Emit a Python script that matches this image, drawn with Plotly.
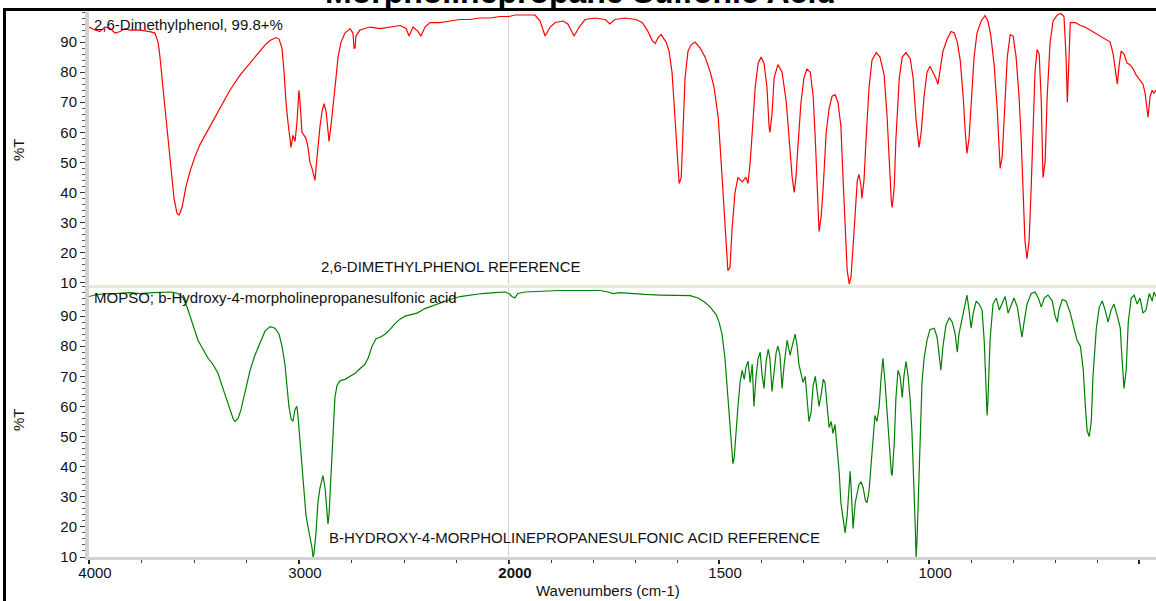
import plotly.graph_objects as go

# ---------------- data ----------------
red_wn = [4000, 3971, 3948, 3924, 3900, 3876, 3852, 3829, 3805, 3757, 3710, 3686, 3671, 3662, 3648,
          3633, 3614, 3595, 3581, 3571, 3557, 3538, 3519, 3495, 3471, 3424, 3376, 3329, 3281, 3233,
          3186, 3162, 3138, 3110, 3095, 3081, 3071, 3062, 3052, 3043, 3038, 3029, 3019, 3010, 3005,
          3000, 2995, 2986, 2976, 2967, 2957, 2948, 2938, 2929, 2924, 2919, 2910, 2900, 2890, 2881,
          2871, 2862, 2857, 2848, 2838, 2824, 2814, 2800, 2781, 2757, 2743, 2738, 2733, 2729, 2710,
          2662, 2614, 2567, 2519, 2490, 2476, 2457, 2433, 2419, 2400, 2376, 2329, 2281, 2233, 2186,
          2138, 2090, 2043, 2000,
          1986, 1962, 1938, 1926, 1914, 1902, 1890, 1871, 1860, 1845, 1833, 1819, 1795, 1771, 1760,
          1748, 1724, 1698, 1683, 1671, 1659, 1652, 1645, 1638, 1631, 1626, 1619, 1612, 1605, 1600,
          1595, 1590, 1586, 1581, 1574, 1567, 1557, 1545, 1533, 1521, 1512, 1502, 1495, 1488, 1483,
          1479, 1474, 1469, 1462, 1455, 1445, 1436, 1431, 1426, 1421, 1414, 1407, 1400, 1393, 1386,
          1381, 1379, 1374, 1369, 1360, 1350, 1340, 1333, 1326, 1321, 1317, 1312, 1305, 1298, 1291,
          1283, 1276, 1271, 1267, 1262, 1257, 1252, 1245, 1238, 1231, 1224, 1217, 1210, 1205, 1200,
          1195, 1190, 1186, 1181, 1176, 1171, 1167, 1162, 1160, 1155, 1150, 1143, 1136, 1126, 1117,
          1107, 1100, 1095, 1090, 1088, 1083, 1079, 1071, 1064, 1055, 1045, 1038, 1031, 1026, 1024,
          1019, 1012, 1005, 998, 991, 984, 979, 974, 967, 957, 948, 940, 933, 926, 919,
          914, 910, 905, 900, 893, 886, 876, 867, 860, 853, 845, 838, 833, 831, 826,
          821, 814, 807, 800, 793, 786, 781, 776, 772, 767, 762, 757, 752, 748, 743,
          738, 733, 729, 724, 719, 712, 705, 695, 686, 679, 674, 671, 669, 664, 652,
          640, 629, 617, 605, 593, 581, 569, 562, 557, 552, 548, 543, 536, 529, 522,
          514, 507, 498, 491, 486, 481, 479, 474, 469, 465, 460]
red_t = [95, 94, 93.5, 95, 94.5, 93, 93.5, 94.5, 94, 94, 93.5, 93, 90, 85, 75,
         65, 50, 38, 33, 32.5, 35, 42, 47, 52, 56, 62, 68, 74, 79, 83,
         87, 89, 90.5, 91.5, 91, 88, 80, 70, 63, 58, 55, 59, 57, 63, 70,
         74, 70, 60, 59, 58, 55, 50, 48, 45, 44, 48, 56, 62, 67, 69.5,
         67, 59, 57, 62, 68, 78, 85, 90, 93, 94.5, 93, 88, 88, 92, 94,
         95, 94.5, 95, 95.5, 94.5, 92, 95, 93.5, 92, 95, 96.5, 96.5, 97, 97.5, 97.5,
         98, 98, 98.5, 98.5,
         99, 99, 99, 97, 92, 95, 96.5, 97, 96, 92, 95, 97.5, 98, 97.5, 96,
         97.5, 98, 97.5, 96.5, 94, 90.5, 89.5, 91.5, 92.5, 91, 90, 87, 80, 65, 55,
         43, 45, 62, 78, 87, 89, 90, 88, 85, 80, 75, 65, 50, 35, 22,
         14, 15, 28, 40, 45, 43.5, 45, 43, 50, 60, 75, 83, 85, 83, 75,
         62, 60, 66, 78, 82.5, 80, 70, 58, 45, 40, 45, 56, 70, 78, 81,
         80, 72, 58, 42, 27, 32, 42, 60, 68, 72, 72.5, 70, 62, 45, 28,
         14, 9.5, 12, 22, 35, 44, 46, 42, 38, 44, 58, 75, 84, 86.5, 85,
         79, 65, 48, 37, 35, 42, 58, 78, 85, 86.5, 84.5, 78, 64, 56, 55,
         60, 72, 80, 82, 80, 78, 76, 80, 87, 91, 93.5, 93, 90, 84, 72,
         60, 53, 58, 70, 85, 93, 97, 98.8, 97, 92, 82, 68, 55, 48, 52,
         68, 85, 92.5, 92, 85, 72, 58, 38, 24, 18, 24, 42, 62, 80, 87.5,
         86, 70, 45, 50, 72, 90, 97, 99, 99.5, 98.5, 85, 70, 80, 96.5, 96.5,
         95.5, 95, 94, 93, 92, 91, 90, 86, 80, 76, 82, 87, 86, 83, 82.5,
         81, 79, 77.5, 76, 73, 68, 65, 72, 74, 73, 74]

green_wn = [4000, 3971, 3924, 3876, 3805, 3757, 3695, 3638, 3605, 3576, 3552, 3533, 3519, 3500, 3481,
            3457, 3433, 3410, 3386, 3367, 3348, 3329, 3314, 3305, 3290, 3276, 3257, 3233, 3210, 3186,
            3162, 3138, 3114, 3095, 3081, 3067, 3057, 3048, 3038, 3029, 3019, 3010, 3005, 2995, 2986,
            2976, 2967, 2957, 2948, 2938, 2933, 2929, 2919, 2910, 2900, 2890, 2886, 2876, 2867, 2862,
            2857, 2848, 2838, 2829, 2819, 2805, 2781, 2757, 2733, 2710, 2686, 2671, 2652, 2633, 2614,
            2590, 2567, 2543, 2519, 2495, 2471, 2438, 2400, 2362, 2329, 2281, 2233, 2186, 2129, 2067,
            2019, 2000,
            1993, 1986, 1979, 1962, 1926, 1879, 1831, 1783, 1764, 1752, 1736, 1712, 1676, 1640, 1605,
            1569, 1550, 1533, 1521, 1507, 1500, 1493, 1486, 1479, 1474, 1469, 1467, 1464, 1460, 1455,
            1450, 1445, 1440, 1436, 1431, 1426, 1421, 1417, 1412, 1407, 1402, 1398, 1393, 1388, 1383,
            1379, 1374, 1369, 1364, 1360, 1355, 1350, 1345, 1338, 1331, 1326, 1319, 1314, 1310, 1305,
            1300, 1295, 1291, 1286, 1281, 1276, 1271, 1267, 1262, 1257, 1252, 1248, 1243, 1238, 1233,
            1229, 1224, 1219, 1214, 1210, 1205, 1200, 1195, 1190, 1188, 1186, 1183, 1181, 1176, 1171,
            1167, 1162, 1157, 1152, 1148, 1143, 1138, 1133, 1129, 1124, 1119, 1114, 1110, 1105, 1100,
            1095, 1090, 1088, 1083, 1079, 1074, 1069, 1064, 1060, 1055, 1050, 1045, 1041, 1036, 1033,
            1031, 1029, 1026, 1021, 1017, 1012, 1005, 998, 988, 981, 976, 972, 967, 960, 952,
            945, 938, 933, 929, 921, 914, 910, 905, 900, 895, 888, 881, 874, 869, 864,
            862, 860, 855, 848, 840, 833, 826, 819, 812, 807, 798, 790, 783, 779, 774,
            767, 757, 748, 740, 733, 726, 717, 707, 700, 695, 691, 683, 674, 664, 655,
            648, 640, 633, 629, 624, 619, 614, 610, 602, 595, 588, 581, 574, 567, 560,
            552, 545, 541, 536, 531, 526, 519, 512, 505, 498, 491, 484, 476, 469, 465, 460]
green_t = [96.5, 97, 97.5, 97.5, 97.8, 97.5, 97.8, 98, 98, 97.5, 96, 93, 90, 86, 82,
           79, 76, 74, 71, 67, 63, 59, 56, 55, 56, 59, 65, 72, 77, 81,
           85, 86.5, 86, 84, 80, 74, 67, 60, 56, 55, 59, 60, 57, 48, 40,
           33, 24, 20, 17, 13, 10, 11, 18, 28, 33, 36, 37, 33, 25, 21,
           24, 38, 54, 63, 67, 68.5, 69, 70, 71, 72.5, 74, 76, 80, 82.5, 83,
           84, 85.5, 87.5, 89, 90, 90.5, 91, 92.5, 93.5, 94.5, 95.5, 96.5, 97, 97.5, 97.8,
           98, 97.5,
           96.5, 96, 97.5, 98, 98.2, 98.5, 98.5, 98.5, 98, 97.5, 97.8, 97.5, 97.2, 97, 97,
           96.8, 96, 94.5, 93, 90.5, 88, 84, 76, 64, 55, 45, 41, 43, 52, 60,
           68, 72, 69, 73, 75, 68, 74, 60, 70, 76, 78, 71, 66, 75, 79,
           76, 65, 72, 78, 80, 77, 66, 74, 82, 77, 80, 84, 80, 74, 71,
           68, 70, 63, 55, 58, 67, 70, 66, 60, 64, 69, 68, 60, 53, 55,
           51, 54, 47, 38, 28, 22, 18, 24, 34, 38.5, 34, 25, 19.5, 28, 32,
           34, 35, 33, 29, 28, 32, 42, 50, 57, 55, 60, 70, 76, 68, 58,
           47, 38, 37, 48, 63, 72, 70, 63, 70, 75, 70, 62, 52, 35, 20,
           10, 15, 28, 52, 68, 76, 82, 85.5, 86, 83, 76, 72, 80, 87, 89.5,
           88, 84, 78, 84, 90, 95, 97, 92, 86, 91, 95, 94, 92, 82, 66,
           57, 62, 82, 94, 96, 92, 94, 96.5, 91, 93, 96, 93, 87, 83, 88,
           94, 97.5, 98, 96, 93, 96, 97, 95, 90, 88, 92, 95.5, 95, 91, 86,
           82, 80, 72, 62, 52, 50, 55, 70, 86, 93, 95, 92, 88, 92, 94,
           90, 86, 76, 66, 72, 88, 96, 97, 94, 96, 91, 92, 97.5, 95, 98, 96.5]

y_ticks = [10, 20, 30, 40, 50, 60, 70, 80, 90]
x_left_ticks = [4000, 3000, 2000]
x_left_labels = ["4000", "3000", "<b>2000</b>"]
x_right_ticks = [1500, 1000, 500]
x_right_labels = ["1500", "1000", ""]

title_text = "Morpholinepropane Sulfonic Acid"
label_top = "2,6-Dimethylphenol, 99.8+%"
ref_top = "2,6-DIMETHYLPHENOL REFERENCE"
label_bot = "MOPSO; b-Hydroxy-4-morpholinepropanesulfonic acid"
ref_bot = "B-HYDROXY-4-MORPHOLINEPROPANESULFONIC ACID REFERENCE"

# ---------------- figure ----------------
FONT = "Arial, 'Liberation Sans', sans-serif"
W, H = 1156, 601
L, R, T, B = 89, 0, 12, 44
PW, PH = W - L - R, H - T - B
S = (509 - L) / PW  # split of the x axis at 2000 cm-1


def px_x(p):
    return (p - L) / PW


def px_y(p):
    return (H - B - p) / PH


def part(wn, t, left):
    pts = [(w, v) for w, v in zip(wn, t) if (w >= 2000 if left else w <= 2000)]
    return [p[0] for p in pts], [p[1] for p in pts]


fig = go.Figure()
for wn, tt, color, xs, ys in [
    (red_wn, red_t, "#ff0000", ("x", "x2"), ("y", "y2")),
    (green_wn, green_t, "#008000", ("x3", "x4"), ("y3", "y4")),
]:
    for i, left in enumerate([True, False]):
        xx, yy = part(wn, tt, left)
        fig.add_trace(go.Scatter(x=xx, y=yy, xaxis=xs[i], yaxis=ys[i], mode="lines",
                                 line=dict(color=color, width=1.2), hoverinfo="skip",
                                 showlegend=False))

top_dom = [0.5, 1.0]
bot_dom = [0.0, (H - B - 286) / PH]

common_x = dict(showgrid=False, zeroline=False, automargin=False)
top_x = dict(common_x, showline=True, linecolor="#ebe8dc", linewidth=3, ticks="",
             showticklabels=False)
bot_x = dict(common_x, showline=True, linecolor="#d2d2d2", linewidth=3, ticks="outside",
             ticklen=4, tickwidth=1.5, tickcolor="#222", ticklabelshift=-6,
             ticklabelstandoff=-4,
             tickfont=dict(family=FONT, size=15, color="#111"))

y_common = dict(showgrid=False, zeroline=False, automargin=False, showline=True,
                linecolor="#d2d2d2", linewidth=4, ticks="outside", ticklen=5, tickwidth=1.3,
                tickcolor="#333", tickvals=y_ticks,
                tickfont=dict(family=FONT, size=15, color="#111"),
                minor=dict(dtick=2, tick0=0, ticks="outside", ticklen=3, tickcolor="#555",
                           tickwidth=1))
y_hidden = dict(showgrid=False, zeroline=False, automargin=False, showline=False, ticks="",
                showticklabels=False)

fig.update_layout(
    width=W, height=H, autosize=False,
    margin=dict(l=L, r=R, t=T, b=B, autoexpand=False),
    paper_bgcolor="white", plot_bgcolor="white",
    font=dict(family=FONT, size=15, color="#111"),
    xaxis=dict(top_x, domain=[0, S], range=[4000, 2000], anchor="y"),
    xaxis2=dict(top_x, domain=[S, 1], range=[2000, 460], anchor="y2"),
    xaxis3=dict(bot_x, domain=[0, S], range=[4000, 2000], anchor="y3",
                tickvals=x_left_ticks, ticktext=x_left_labels,
                minor=dict(dtick=250, tick0=0, ticks="outside", ticklen=3,
                           tickcolor="#444", tickwidth=1.3)),
    xaxis4=dict(bot_x, domain=[S, 1], range=[2000, 460], anchor="y4",
                tickvals=x_right_ticks, ticktext=x_right_labels,
                minor=dict(dtick=100, tick0=0, ticks="outside", ticklen=3,
                           tickcolor="#444", tickwidth=1.3)),
    yaxis=dict(y_common, domain=top_dom, range=[9.4, 100], anchor="x"),
    yaxis2=dict(y_hidden, domain=top_dom, range=[9.4, 100], anchor="x2"),
    yaxis3=dict(y_common, domain=bot_dom, range=[10, 100], anchor="x3"),
    yaxis4=dict(y_hidden, domain=bot_dom, range=[10, 100], anchor="x4"),
)

# vertical separator at 2000 cm-1
fig.add_shape(type="line", xref="x3", yref="paper", x0=2000, x1=2000, y0=0, y1=1,
              line=dict(color="#c8c8c8", width=1.5), layer="below")
# outer frame (partly outside the picture)
fig.add_shape(type="rect", xref="paper", yref="paper",
              x0=px_x(4.5), x1=1.05, y0=-0.3, y1=px_y(9.5),
              line=dict(color="black", width=3), fillcolor="rgba(0,0,0,0)", layer="above")

ann = [
    dict(text="<b>" + title_text + "</b>", x=px_x(580), y=1, xanchor="center",
         yanchor="bottom", yshift=0, font=dict(size=32, color="black")),
    dict(text=label_top, x=px_x(92), y=px_y(24), xanchor="left", yanchor="middle"),
    dict(text=ref_top, x=px_x(319), y=px_y(266), xanchor="left", yanchor="middle"),
    dict(text=label_bot, x=px_x(92), y=px_y(298), xanchor="left", yanchor="middle"),
    dict(text=ref_bot, x=px_x(327), y=px_y(537), xanchor="left", yanchor="middle"),
    dict(text="Wavenumbers (cm-1)", x=px_x(608), y=px_y(590), xanchor="center",
         yanchor="middle"),
    dict(text="%T", x=px_x(18), y=px_y(150), xanchor="center", yanchor="middle",
         textangle=-90),
    dict(text="%T", x=px_x(18), y=px_y(420), xanchor="center", yanchor="middle",
         textangle=-90),
]
for a in ann:
    a.setdefault("font", dict(size=15, color="#111"))
    a["font"].setdefault("family", FONT)
    fig.add_annotation(dict(a, xref="paper", yref="paper", showarrow=False))

fig.write_html(
    "out.html",
    config={"responsive": False, "displayModeBar": False},
    post_script=("document.documentElement.style.overflow='hidden';"
                 "document.body.style.margin='0';document.body.style.overflow='hidden';"),
)
